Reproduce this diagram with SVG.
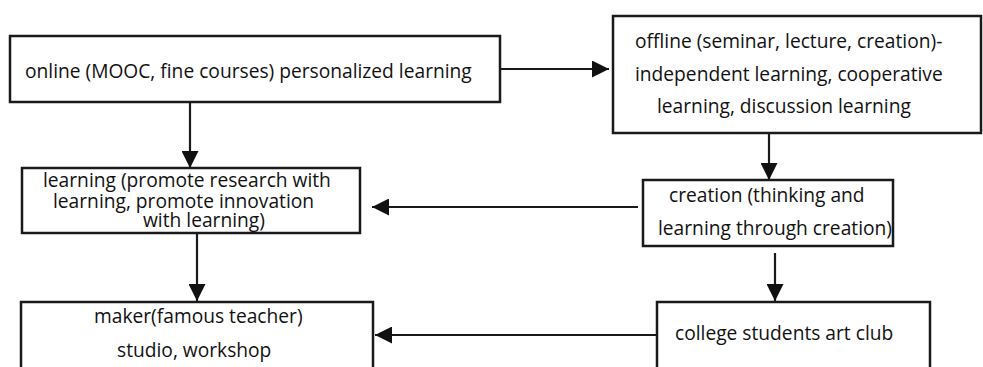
<svg xmlns="http://www.w3.org/2000/svg" width="983" height="367" viewBox="0 0 983 367">
<defs>
<style>
.box{fill:#fff;stroke:#1a1a1a;stroke-width:2.5}
.t{font-family:"Open Sans","Noto Sans","Liberation Sans",sans-serif;font-size:19.2px;fill:#111}
.c{stroke:#1a1a1a;stroke-width:2.2;fill:none;marker-end:url(#ah)}
</style>
<marker id="ah" markerUnits="userSpaceOnUse" markerWidth="17" markerHeight="17" refX="17" refY="8.5" orient="auto">
<path d="M0,0 L17,8.5 L0,17 Z" fill="#111"/>
</marker>
</defs>
<rect width="983" height="367" fill="#fff"/>
<g id="connectors">
<line class="c" x1="500" y1="69" x2="609" y2="69"/>
<line class="c" x1="190" y1="102" x2="190" y2="168"/>
<line class="c" x1="769" y1="133" x2="769" y2="180"/>
<line class="c" x1="638" y1="207" x2="372" y2="207"/>
<line class="c" x1="197" y1="233" x2="197" y2="301"/>
<line class="c" x1="775" y1="253" x2="775" y2="301"/>
<line class="c" x1="657" y1="335" x2="375" y2="335"/>
</g>
<g id="online">
<rect class="box" x="10" y="36" width="490" height="66"/>
<text class="t" x="25" y="78">online (MOOC, fine courses) personalized learning</text>
</g>
<g id="offline">
<rect class="box" x="613" y="16" width="368" height="117"/>
<text class="t" x="635" y="48">offline (seminar, lecture, creation)-</text>
<text class="t" x="635" y="81">independent learning, cooperative</text>
<text class="t" x="657" y="113">learning, discussion learning</text>
</g>
<g id="learning">
<rect class="box" x="22" y="168" width="338" height="65"/>
<text class="t" x="43" y="187">learning (promote research with</text>
<text class="t" x="53" y="208">learning, promote innovation</text>
<text class="t" x="143" y="227">with learning)</text>
</g>
<g id="creation">
<rect class="box" x="643" y="180" width="250" height="66"/>
<text class="t" x="669" y="202">creation (thinking and</text>
<text class="t" x="658" y="235">learning through creation)</text>
</g>
<g id="maker">
<rect class="box" x="21" y="302" width="352" height="75"/>
<text class="t" x="94" y="323">maker(famous teacher)</text>
<text class="t" x="117" y="357">studio, workshop</text>
</g>
<g id="club">
<rect class="box" x="657" y="302" width="273" height="75"/>
<text class="t" x="675" y="340">college students art club</text>
</g>
</svg>
